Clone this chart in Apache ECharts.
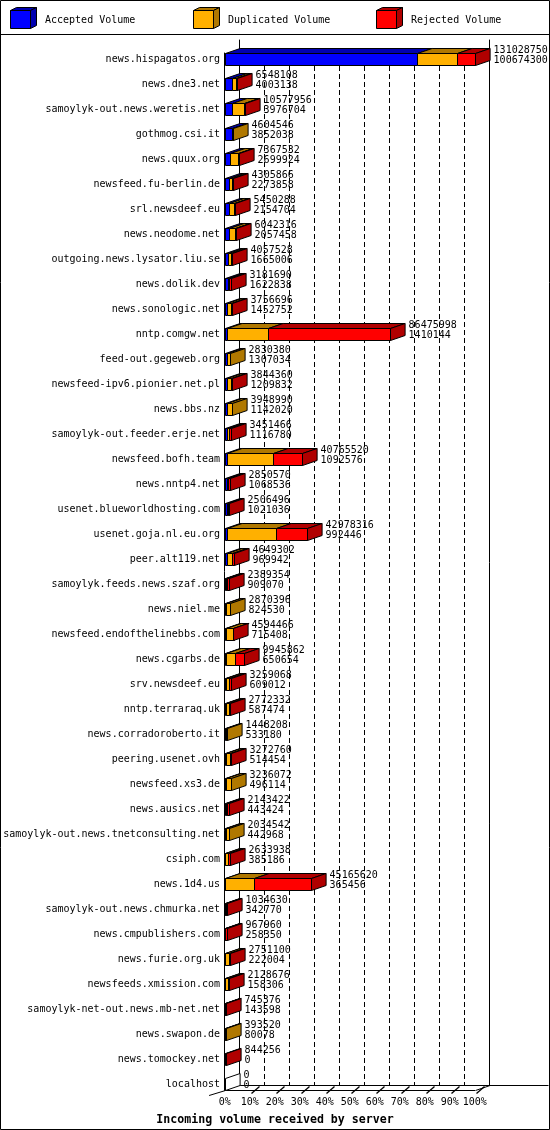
<!DOCTYPE html>
<html>
<head>
<meta charset="utf-8">
<script src="https://cdn.jsdelivr.net/npm/echarts@6.0.0/dist/echarts.min.js"></script>
<style>
html,body{margin:0;padding:0;background:#fff;}
#chart{width:550px;height:1130px;}
</style>
</head>
<body>
<div id="chart"></div>
<script>
const servers = [
  'news.hispagatos.org','news.dne3.net','samoylyk-out.news.weretis.net','gothmog.csi.it',
  'news.quux.org','newsfeed.fu-berlin.de','srl.newsdeef.eu','news.neodome.net',
  'outgoing.news.lysator.liu.se','news.dolik.dev','news.sonologic.net','nntp.comgw.net',
  'feed-out.gegeweb.org','newsfeed-ipv6.pionier.net.pl','news.bbs.nz','samoylyk-out.feeder.erje.net',
  'newsfeed.bofh.team','news.nntp4.net','usenet.blueworldhosting.com','usenet.goja.nl.eu.org',
  'peer.alt119.net','samoylyk.feeds.news.szaf.org','news.niel.me','newsfeed.endofthelinebbs.com',
  'news.cgarbs.de','srv.newsdeef.eu','nntp.terraraq.uk','news.corradoroberto.it',
  'peering.usenet.ovh','newsfeed.xs3.de','news.ausics.net','samoylyk-out.news.tnetconsulting.net',
  'csiph.com','news.1d4.us','samoylyk-out.news.chmurka.net','news.cmpublishers.com',
  'news.furie.org.uk','newsfeeds.xmission.com','samoylyk-net-out.news.mb-net.net','news.swapon.de',
  'news.tomockey.net','localhost'
];
const totalVolume = [
  131028750,6548108,10577956,4604546,7367532,4305866,5450288,6042316,
  4057528,3181690,3756696,86475998,2830380,3844360,3948990,3451466,
  40765520,2850570,2506496,42978316,4649302,2389354,2870396,4594466,
  9945862,3259068,2772332,1448208,3272760,3236072,2143422,2034542,
  2633938,45165620,1034630,967960,2751100,2128676,745376,393520,
  844256,0
];
const acceptedVolume = [
  100674300,4003138,3976704,3852038,2699924,2273858,2154704,2057458,
  1665006,1622838,1452752,1410144,1307034,1209832,1142020,1116780,
  1092576,1068536,1021036,992446,969942,909070,824530,715408,
  650654,609012,587474,533180,514454,496114,443424,442968,
  385186,365456,342770,258350,222004,158306,143598,80078,
  0,0
];
const duplicatedVolume = [
  21300000,1700000,6100000,752508,4400000,1600000,2600000,3100000,
  1800000,700000,1600000,21400000,1523346,2300000,2806970,1200000,
  24400000,700000,600000,25700000,3000000,550000,2045866,3600000,
  4900000,1900000,1800000,915028,2200000,2739958,900000,1591574,
  1200000,15150000,100000,100000,2200000,1800000,50000,313442,
  0,0
];
const rejectedVolume = [
  9054450,844970,501252,0,267608,432008,695584,884858,
  592522,858852,703944,63665854,0,334528,0,1134686,
  15272944,1082034,885460,16285870,679360,930284,0,279058,
  4395208,750056,384858,0,558306,0,799998,0,
  1048752,29650164,591860,609610,329096,170370,551778,0,
  844256,0
];
const seriesNames = ['Accepted Volume','Duplicated Volume','Rejected Volume'];
const axisTitle = 'Incoming volume received by server';
const tickSteps = [0,1,2,3,4,5,6,7,8,9,10];

const FRONT = ['#0000FF','#FFB000','#FF0000'];
const DARK  = ['#0000B0','#B07800','#B00000'];
const FONT = '"DejaVu Sans Mono","Liberation Mono",monospace';
const DX = 14.6, DY = -5, HALF = 6;

const MAX = Math.max.apply(null, totalVolume);
const STEP = MAX / 10;

const rows = servers.map((s, i) => [i, acceptedVolume[i], duplicatedVolume[i], rejectedVolume[i], totalVolume[i]]);

function px(v){ return Math.round(v) + 0.5; }

function renderBar(params, api) {
  const idx = api.value(0);
  const vals = [api.value(1), api.value(2), api.value(3)];
  const total = api.value(4);
  const yc = api.coord([0, idx])[1];
  const top = px(yc - HALF), bot = px(yc + HALF);
  const bounds = [0, vals[0], vals[0] + vals[1], vals[0] + vals[1] + vals[2]];
  const xs = bounds.map(v => px(api.coord([v, idx])[0]));
  const children = [];
  let last = -1;
  for (let k = 0; k < 3; k++) if (vals[k] > 0) last = k;
  const st = (fill) => ({ fill: fill, stroke: '#000', lineWidth: 1 });
  for (let k = 0; k < 3; k++) {
    if (vals[k] <= 0) continue;
    const x0 = xs[k], x1 = Math.max(xs[k + 1], xs[k] + 1);
    children.push({ type: 'polygon', shape: { points: [[x0, top], [x1, top], [x1 + DX, top + DY], [x0 + DX, top + DY]] }, style: st(DARK[k]) });
    children.push({ type: 'rect', shape: { x: x0, y: top, width: x1 - x0, height: bot - top }, style: st(FRONT[k]) });
  }
  const xe = last >= 0 ? Math.max(xs[3], xs[0] + 1) : xs[0];
  if (last < 0) {
    children.push({ type: 'polygon', shape: { points: [[xe, top], [xe + DX, top + DY], [xe + DX, bot + DY], [xe, bot]] }, style: st('#FFFFFF') });
  } else {
    children.push({ type: 'polygon', shape: { points: [[xe, top], [xe + DX, top + DY], [xe + DX, bot + DY], [xe, bot]] }, style: st(DARK[last]) });
  }
  const tx = xe + DX + 3.5;
  children.push({ type: 'text', style: { text: String(total), x: tx, y: yc - 9, fill: '#000', font: '10px ' + FONT, verticalAlign: 'middle', align: 'left' } });
  children.push({ type: 'text', style: { text: String(api.value(1)), x: tx, y: yc + 1.5, fill: '#000', font: '10px ' + FONT, verticalAlign: 'middle', align: 'left' } });
  return { type: 'group', children: children };
}

function renderFloor(params, api) {
  const v = api.value(0);
  const p = api.coord([v, 0]);
  const x = px(p[0]), y = px(p[1]);
  const ls = { stroke: '#000', lineWidth: 1 };
  const children = [];
  if (params.dataIndex === 0) {
    children.push({ type: 'line', shape: { x1: x - 16.4, y1: y + 5, x2: x, y2: y }, style: ls });
    children.push({ type: 'line', shape: { x1: x + DX, y1: y + DY, x2: api.getWidth() - 1.5, y2: y + DY }, style: ls });
  } else {
    children.push({ type: 'line', shape: { x1: x + 1, y1: y + 3, x2: x + 9, y2: y - 4 }, style: { stroke: '#000', lineWidth: 1.3 } });
  }
  if (params.dataIndex === params.dataInsideLength - 1 || v === MAX) {
    children.push({ type: 'line', shape: { x1: x, y1: y, x2: x + DX, y2: y + DY }, style: ls });
  }
  return { type: 'group', children: children };
}

const legendGraphics = [];
seriesNames.forEach((name, i) => {
  const x0 = 10.5 + 183 * i, y0 = 10.5, w = 20, h = 18, dx = 6, dy = -3;
  const st = (fill) => ({ fill: fill, stroke: '#000', lineWidth: 1 });
  legendGraphics.push({ type: 'polygon', shape: { points: [[x0, y0], [x0 + w, y0], [x0 + w + dx, y0 + dy], [x0 + dx, y0 + dy]] }, style: st(DARK[i]) });
  legendGraphics.push({ type: 'polygon', shape: { points: [[x0 + w, y0], [x0 + w + dx, y0 + dy], [x0 + w + dx, y0 + h + dy], [x0 + w, y0 + h]] }, style: st(DARK[i]) });
  legendGraphics.push({ type: 'rect', shape: { x: x0, y: y0, width: w, height: h }, style: st(FRONT[i]) });
  legendGraphics.push({ type: 'text', style: { text: name, x: 45 + 183 * i, y: 20.5, fill: '#000', font: '10px ' + FONT, verticalAlign: 'middle' } });
});

const chart = echarts.init(document.getElementById('chart'), null, { renderer: 'canvas' });
const noAxis = { show: false };
chart.setOption({
  animation: false,
  backgroundColor: '#FFFFFF',
  title: {
    text: axisTitle, left: 'center', top: 1109,
    textStyle: { fontFamily: FONT, fontSize: 11.6, fontWeight: 'bold', color: '#000' }
  },
  grid: [
    { left: 224.7, top: 46.5, width: 250, height: 1050, outerBoundsMode: 'none', containLabel: false },
    { left: 239.3, top: 66, width: 250, height: 1019, outerBoundsMode: 'none', containLabel: false },
    { left: 239.3, top: 40, width: 250, height: 1045, outerBoundsMode: 'none', containLabel: false },
    { left: 224.7, top: 53, width: 250, height: 1037, outerBoundsMode: 'none', containLabel: false }
  ],
  xAxis: [
    { gridIndex: 0, type: 'value', min: 0, max: MAX, show: false },
    { gridIndex: 1, type: 'value', min: 0, max: MAX, interval: STEP,
      axisLine: noAxis, axisTick: noAxis, axisLabel: noAxis,
      splitLine: { show: true, showMinLine: false, showMaxLine: false, lineStyle: { color: '#000', width: 1, type: [5, 3] } } },
    { gridIndex: 2, type: 'value', min: 0, max: MAX, show: false },
    { gridIndex: 3, type: 'value', min: 0, max: MAX, interval: STEP,
      axisLine: { show: true, onZero: false, lineStyle: { color: '#000', width: 1 } },
      axisTick: noAxis, splitLine: noAxis,
      axisLabel: { show: true, margin: 7, fontSize: 10, fontFamily: FONT, color: '#000',
        showMinLabel: true, showMaxLabel: true,
        formatter: v => Math.round(v / MAX * 100) + '%' } }
  ],
  yAxis: [
    { gridIndex: 0, type: 'category', inverse: true, data: servers,
      axisLine: noAxis, axisTick: noAxis, splitLine: noAxis,
      axisLabel: { interval: 0, margin: 4.7, fontSize: 10, fontFamily: FONT, color: '#000' } },
    { gridIndex: 1, type: 'value', show: false },
    { gridIndex: 2, type: 'value', position: 'left', min: 0, max: 1,
      axisLine: { show: true, onZero: false, lineStyle: { color: '#000', width: 1 } },
      axisTick: noAxis, axisLabel: noAxis, splitLine: noAxis },
    { gridIndex: 2, type: 'value', position: 'right', min: 0, max: 1,
      axisLine: { show: true, onZero: false, lineStyle: { color: '#000', width: 1 } },
      axisTick: noAxis, axisLabel: noAxis, splitLine: noAxis },
    { gridIndex: 3, type: 'value', position: 'left', min: 0, max: 1,
      axisLine: { show: true, onZero: false, lineStyle: { color: '#000', width: 1 } },
      axisTick: noAxis, axisLabel: noAxis, splitLine: noAxis }
  ],
  graphic: [
    { type: 'rect', shape: { x: 0.5, y: 0.5, width: 549, height: 1129 }, style: { fill: 'none', stroke: '#000', lineWidth: 1 }, z: 100 },
    { type: 'line', shape: { x1: 0, y1: 34.5, x2: 550, y2: 34.5 }, style: { stroke: '#000', lineWidth: 1 }, z: 100 }
  ].concat(legendGraphics),
  series: [
    { type: 'custom', name: 'volume', xAxisIndex: 0, yAxisIndex: 0, renderItem: renderBar, data: rows, z: 5,
      encode: { x: [1, 2, 3, 4], y: 0 } },
    { type: 'custom', name: 'floor', xAxisIndex: 3, yAxisIndex: 4, renderItem: renderFloor, z: 3,
      data: tickSteps.map(t => [t * STEP, 0]), encode: { x: 0, y: 1 } }
  ]
});
</script>
</body>
</html>
